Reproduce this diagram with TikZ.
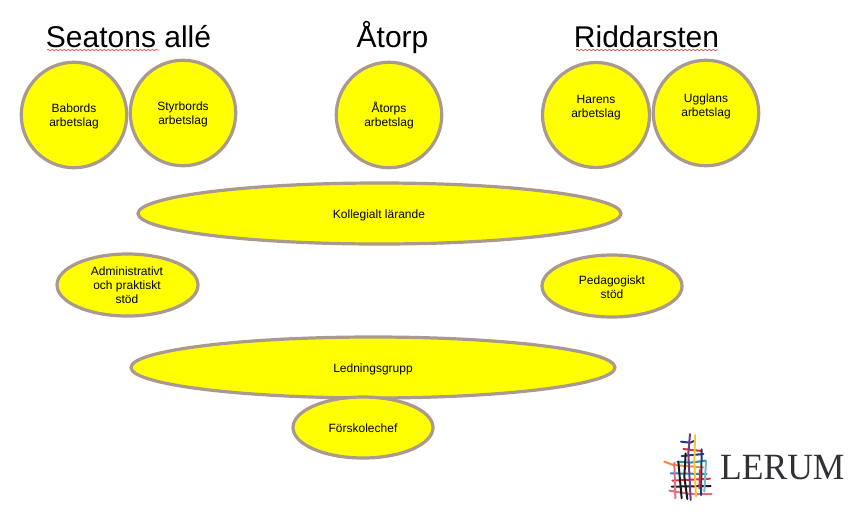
\documentclass[tikz,border=0pt]{standalone}
\usepackage{fontspec}
\setmainfont{Liberation Sans}
\newfontfamily\logofont{Liberation Serif}
\usetikzlibrary{shapes.geometric,decorations.pathmorphing}
\definecolor{rimcol}{RGB}{170,153,143}
\definecolor{fillcol}{RGB}{255,255,0}
\definecolor{squig}{RGB}{222,90,90}
\definecolor{thpink}{RGB}{226,110,130}
\definecolor{thred}{RGB}{214,50,60}
\definecolor{thnavy}{RGB}{30,60,120}
\definecolor{thteal}{RGB}{40,140,170}
\definecolor{thorange}{RGB}{240,140,60}
\definecolor{thblack}{RGB}{25,25,30}
\definecolor{thpurple}{RGB}{110,60,140}
\definecolor{thyellow}{RGB}{245,195,60}
\definecolor{thlight}{RGB}{120,185,200}
\tikzset{
  x=1pt,y=-1pt,
  blob/.style={ellipse,draw=rimcol,fill=fillcol,line width=3.2pt,inner sep=0pt},
  lbl/.style={align=center,inner sep=0pt,font=\fontsize{12}{14}\selectfont,text=black},
  titletext/.style={font=\fontsize{30}{34}\selectfont,text=black,inner sep=0pt,anchor=base},
  squiggle/.style={squig,line width=0.7pt,decorate,decoration={snake,amplitude=0.8pt,segment length=4pt}},
  thread/.style={line width=2pt,line cap=round}
}
\begin{document}
\begin{tikzpicture}
\useasboundingbox (0,0) rectangle (866,520);
\fill[white] (0,0) rectangle (866,520);
% titles
\node[titletext] (t1) at (128.5,47) {Seatons allé};
\node[titletext] (t2) at (392.5,47) {Åtorp};
\node[titletext] (t3) at (646.5,47) {Riddarsten};
\coordinate (s1a) at (47,50); \coordinate (s1b) at (159,50);
\coordinate (s3a) at (576,50); \coordinate (s3b) at (718,50);
\draw[squiggle] (s1a) -- (s1b);
\draw[squiggle] (s3a) -- (s3b);
% circles
\node[blob,minimum width=105.5,minimum height=105.5] (bab) at (74,115) {};
\node[lbl] (babt) at (74,116) {Babords\\arbetslag};
\node[blob,minimum width=105.5,minimum height=105.5] (sty) at (183,113) {};
\node[lbl] (styt) at (183,114) {Styrbords\\arbetslag};
\node[blob,minimum width=105.5,minimum height=105.5] (ato) at (389,115) {};
\node[lbl] (atot) at (389,116) {Åtorps\\arbetslag};
\node[blob,minimum width=107,minimum height=105] (har) at (596,115) {};
\node[lbl] (hart) at (596,107.5) {Harens\\arbetslag};
\node[blob,minimum width=105.5,minimum height=105.5] (ugg) at (706,113) {};
\node[lbl] (uggt) at (706,106) {Ugglans\\arbetslag};
% ellipses
\node[blob,minimum width=483,minimum height=61] (kol) at (379.5,213.5) {};
\node[lbl] (kolt) at (379,215) {Kollegialt lärande};
\node[blob,minimum width=141,minimum height=62] (adm) at (127.5,285) {};
\node[lbl] (admt) at (127,285) {Administrativt\\och praktiskt\\stöd};
\node[blob,minimum width=140,minimum height=62] (ped) at (612,286) {};
\node[lbl] (pedt) at (612,287) {Pedagogiskt\\stöd};
\node[blob,minimum width=484,minimum height=61] (led) at (373,367.5) {};
\node[lbl] (ledt) at (373,369) {Ledningsgrupp};
\node[blob,minimum width=140,minimum height=61] (for) at (363,427.5) {};
\node[lbl] (fort) at (363,428) {Förskolechef};
% logo
\node[inner sep=0pt,anchor=base west,text=thblack!90,xscale=0.96,font=\logofont\fontsize{37}{40}\selectfont] (lerum) at (720,479) {LERUM};
\begin{scope}[shift={(640,420)},x=0.3333pt,y=-0.3333pt]
  \draw[thread,thnavy] (123,65) -- (150,68) -- (165,62);
  \draw[thread,thred] (130,87) -- (185,93);
  \draw[thread,thnavy] (125,108) -- (190,102);
  \draw[thread,thteal] (112,125) -- (150,128) -- (197,122);
  \draw[thread,thorange] (73,125) -- (100,135) -- (190,142);
  \draw[thread,thteal] (92,160) -- (200,162);
  \draw[thread,thred] (97,182) -- (210,176);
  \draw[thread,thblack] (95,200) -- (212,198);
  \draw[thread,thpink] (88,212) -- (150,222) -- (215,222);
  \draw[thread,thpink] (103,128) -- (106,235);
  \draw[thread,thblack] (115,125) -- (125,235);
  \draw[thread,thblack] (137,100) -- (133,170) -- (142,237);
  \draw[thread,thpurple] (150,42) -- (145,100) -- (152,240);
  \draw[thread,thyellow] (165,45) -- (163,130) -- (168,230);
  \draw[thread,thnavy] (185,88) -- (183,225);
  \draw[thread,thlight] (198,125) -- (193,215);
  \draw[thread,thred] (180,150) -- (178,205);
\end{scope}
\end{tikzpicture}
\end{document}
